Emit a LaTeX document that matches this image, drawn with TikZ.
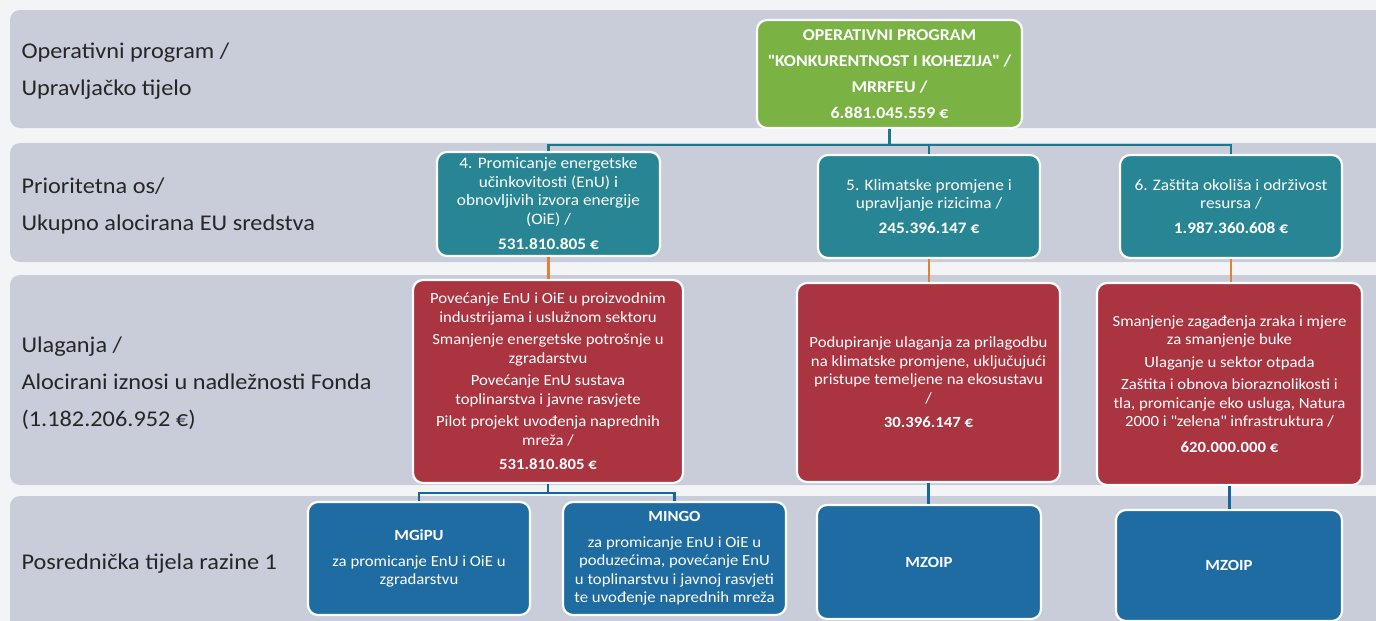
\documentclass[tikz,border=0pt]{standalone}
\usepackage{fontspec}
\setmainfont{Carlito}[FakeStretch=1.08]
\usetikzlibrary{calc,shadows}

\definecolor{bggray}{RGB}{243,244,246}
\definecolor{bandgray}{RGB}{201,205,217}
\definecolor{opgreen}{RGB}{122,178,68}
\definecolor{osteal}{RGB}{40,134,148}
\definecolor{ulred}{RGB}{170,52,64}
\definecolor{ptblue}{RGB}{30,108,162}
\definecolor{tealline}{RGB}{28,118,140}
\definecolor{orangeline}{RGB}{230,126,56}
\definecolor{blueline}{RGB}{24,100,156}

\tikzset{
  band/.style={fill=bandgray, rounded corners=10pt},
  lbl/.style={anchor=west, align=left, text=black!85,
    font=\fontsize{22.5}{37}\selectfont},
  box/.style={draw=white, line width=2.2pt, rounded corners=10pt,
    text=white, align=center,
    drop shadow={opacity=0.4, shadow xshift=0.8pt, shadow yshift=-0.8pt}},
  osbox/.style={box, fill=osteal, font=\fontsize{16}{18.5}\selectfont},
  ulbox/.style={box, fill=ulred, font=\fontsize{15.5}{18.5}\selectfont},
  ptbox/.style={box, fill=ptblue, font=\fontsize{15.5}{18.5}\selectfont},
  conn/.style={line width=2.6pt}
}

\begin{document}
\begin{tikzpicture}[x=1pt,y=-1pt]
\useasboundingbox (0,0) rectangle (1376,621);
\clip (0,0) rectangle (1376,621);
\fill[bggray] (0,0) rectangle (1376,621);

% bands of the four levels
\fill[band] (10,10) rectangle (1400,128);
\fill[band] (10,143) rectangle (1400,262);
\fill[band] (10,275) rectangle (1400,485);
\fill[band] (10,496) rectangle (1400,650);

% level labels
\node[lbl] (lblop) at (18,71.5) {Operativni program /\\Upravljačko tijelo};
\node[lbl] (lblos) at (18,205.5) {Prioritetna os/\\Ukupno alocirana EU sredstva};
\node[lbl] (lblul) at (18,383.5) {Ulaganja /\\Alocirani iznosi u nadležnosti Fonda\\(1.182.206.952 €)};
\node[lbl] (lblpt) at (18,564) {Posrednička tijela razine 1};

% operativni program
\node[box, fill=opgreen, minimum width=265pt, minimum height=108pt,
  font=\bfseries\fontsize{16.5}{26}\selectfont] (op) at (889.5,74)
  {OPERATIVNI PROGRAM\\\textquotedbl KONKURENTNOST I KOHEZIJA\textquotedbl{} /\\MRRFEU /\\6.881.045.559 €};

% prioritetne osi
\node[osbox, minimum width=223pt, minimum height=104pt] (os4) at (548.5,204)
  {4. Promicanje energetske\\učinkovitosti (EnU) i\\obnovljivih  izvora energije\\(OiE) /\\[7pt]\textbf{531.810.805 €}};
\node[osbox, minimum width=222pt, minimum height=103pt] (os5) at (929,206.5)
  {5. Klimatske promjene  i\\upravljanje rizicima /\\[6pt]\textbf{245.396.147 €}};
\node[osbox, minimum width=222pt, minimum height=103pt] (os6) at (1231,206.5)
  {6. Zaštita okoliša i održivost\\resursa /\\[6pt]\textbf{1.987.360.608 €}};

% ulaganja
\node[ulbox, minimum width=270pt, minimum height=203pt] (ul4) at (548,381.5)
  {Povećanje EnU i OiE u proizvodnim\\industrijama i uslužnom sektoru\\[4pt]
   Smanjenje energetske potrošnje u\\zgradarstvu\\[4pt]
   Povećanje EnU sustava\\toplinarstva i javne rasvjete\\[4pt]
   Pilot projekt uvođenja naprednih\\mreža /\\[6pt]\textbf{531.810.805 €}};
\node[ulbox, minimum width=263pt, minimum height=199pt] (ul5) at (928.5,382.5)
  {Podupiranje ulaganja za prilagodbu\\na klimatske promjene, uključujući\\pristupe temeljene na ekosustavu\\/\\[6pt]\textbf{30.396.147 €}};
\node[ulbox, minimum width=265pt, minimum height=202pt] (ul6) at (1229.5,384)
  {Smanjenje  zagađenja zraka i mjere\\za smanjenje buke\\[4pt]
   Ulaganje u sektor otpada\\[4pt]
   Zaštita i obnova bioraznolikosti i\\tla, promicanje eko usluga, Natura\\2000 i \textquotedbl zelena\textquotedbl{} infrastruktura /\\[7pt]\textbf{620.000.000 €}};

% posrednicka tijela
\node[ptbox, minimum width=222pt, minimum height=113pt] (pt1) at (419,558.5)
  {\textbf{MGiPU}\\[7pt]za promicanje EnU i OiE u\\zgradarstvu};
\node[ptbox, minimum width=223pt, minimum height=113pt] (pt2) at (674.5,558.5)
  {\textbf{MINGO}\\[7pt]za promicanje EnU i OiE u\\poduzećima, povećanje EnU\\u toplinarstvu i javnoj rasvjeti\\te uvođenje naprednih mreža};
\node[ptbox, minimum width=224pt, minimum height=114pt] (pt3) at (929,562)
  {\textbf{MZOIP}};
\node[ptbox, minimum width=226pt, minimum height=111pt] (pt4) at (1229,565.5)
  {\textbf{MZOIP}};

% connectors op -> osi
\coordinate (obar) at (0,145);
\draw[conn, tealline] (op.south) -- (op.south |- obar) -| (os4.north);
\draw[conn, tealline] (op.south |- obar) -| (os6.north);
\draw[conn, tealline] (os5.north |- obar) -- (os5.north);

% connectors osi -> ulaganja
\draw[conn, orangeline] (os4.south) -- (os4.south |- ul4.north);
\draw[conn, orangeline] (os5.south) -- (os5.south |- ul5.north);
\draw[conn, orangeline] (os6.south) -- (os6.south |- ul6.north);

% connectors ulaganja -> tijela
\coordinate (ubar) at (0,493);
\draw[conn, blueline] (ul4.south) -- (ul4.south |- ubar) -| (pt1.north);
\draw[conn, blueline] (ul4.south |- ubar) -| (pt2.north);
\draw[conn, blueline] (ul5.south) -- (ul5.south |- pt3.north);
\draw[conn, blueline] (ul6.south) -- (ul6.south |- pt4.north);
\end{tikzpicture}
\end{document}
